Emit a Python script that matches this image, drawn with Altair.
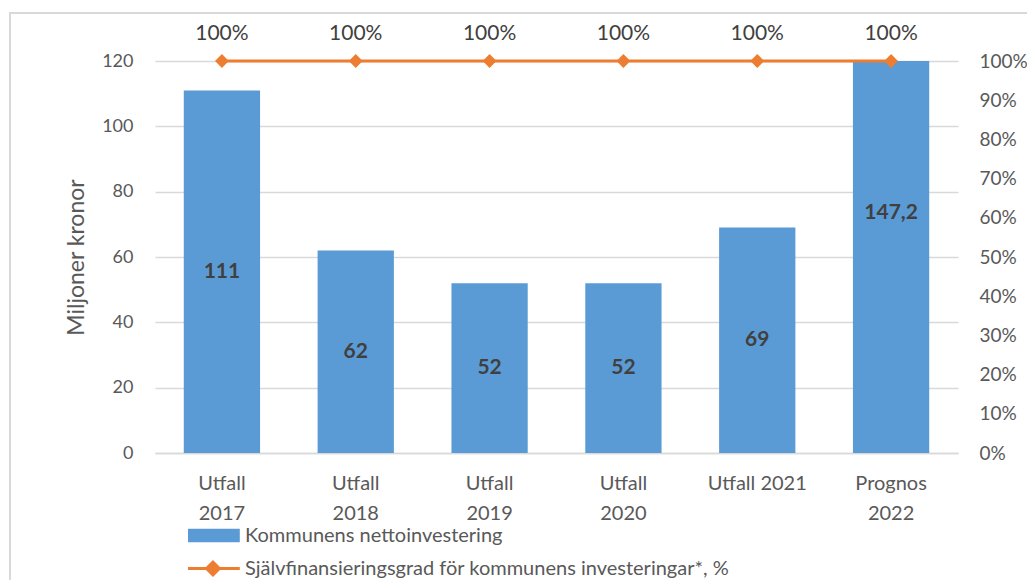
import altair as alt
import pandas as pd

categories = ["Utfall 2017", "Utfall 2018", "Utfall 2019", "Utfall 2020", "Utfall 2021", "Prognos 2022"]
investering = [111, 62, 52, 52, 69, 147.2]
sjalvfin = [1.0, 1.0, 1.0, 1.0, 1.0, 1.0]

bar_name = "Kommunens nettoinvestering"
line_name = "Självfinansieringsgrad för kommunens investeringar*, %"
series_names = [bar_name, line_name]
pct_ticks = [0, 0.1, 0.2, 0.3, 0.4, 0.5, 0.6, 0.7, 0.8, 0.9, 1.0]

BLUE = "#5B9BD5"
ORANGE = "#ED7D31"
FONT = "Lato"

df = pd.DataFrame({"cat": categories, "value": investering, "pct": sjalvfin})
legend_df = pd.DataFrame({"series": series_names})

x_enc = alt.X(
    "cat:N",
    sort=categories,
    scale=alt.Scale(paddingInner=0.43, paddingOuter=0.215),
    axis=alt.Axis(
        title=None, labelAngle=0, ticks=False, domainColor="#d9d9d9", domainWidth=1.5,
        labelColor="#595959", labelFontSize=20, labelFont=FONT, labelPadding=20,
        labelLineHeight=30, labelBaseline="top",
        labelExpr="datum.value == 'Utfall 2021' ? datum.value : split(datum.value, ' ')",
    ),
)

left_axis = alt.Axis(
    title="Miljoner kronor", titleFontSize=23, titleFont=FONT, titleColor="#595959",
    titleFontWeight="normal", titlePadding=13,
    values=[0, 20, 40, 60, 80, 100, 120], domain=False, ticks=False,
    labelColor="#595959", labelFontSize=18, labelFont=FONT, labelPadding=22,
    gridColor="#d9d9d9", gridWidth=1.5,
)
left_scale = alt.Scale(domain=[0, 120], nice=False)

base = alt.Chart(df)

frame = alt.Chart(pd.DataFrame({"a": [0]})).mark_rect(
    filled=False, stroke="#d9d9d9", strokeWidth=2, clip=False
).encode(x=alt.value(-145), x2=alt.value(900), y=alt.value(-48), y2=alt.value(700))

bars = base.mark_bar(color=BLUE, clip=True).encode(
    x=x_enc,
    y=alt.Y("value:Q", scale=left_scale, axis=left_axis),
)

bar_labels = base.transform_calculate(
    half="datum.value / 2",
    lab="replace(toString(datum.value), '.', ',')",
).mark_text(fontSize=21, fontWeight="bold", font=FONT, color="#404040").encode(
    x=alt.X("cat:N", sort=categories),
    y=alt.Y("half:Q", scale=left_scale, axis=left_axis),
    text="lab:N",
)

left = alt.layer(frame, bars, bar_labels)

pct_axis = alt.Axis(
    title=None, orient="right", format=".0%",
    values=pct_ticks, tickCount=11,
    domain=False, ticks=False, grid=False, labelOverlap=False,
    labelColor="#595959", labelFontSize=19, labelFont=FONT, labelPadding=21,
)
pct_scale = alt.Scale(domain=[0, 1], nice=False)

line = base.mark_line(strokeWidth=3, color=ORANGE).encode(
    x=alt.X("cat:N", sort=categories),
    y=alt.Y("pct:Q", scale=pct_scale, axis=pct_axis),
)
points = base.mark_point(shape="diamond", filled=True, size=190, opacity=1, color=ORANGE).encode(
    x=alt.X("cat:N", sort=categories),
    y=alt.Y("pct:Q", scale=pct_scale, axis=pct_axis),
)
pct_labels = base.mark_text(fontSize=21, font=FONT, color="#404040", dy=-27).encode(
    x=alt.X("cat:N", sort=categories),
    y=alt.Y("pct:Q", scale=pct_scale, axis=pct_axis),
    text=alt.Text("pct:Q", format=".0%"),
)

right = alt.layer(line, points, pct_labels)

legend = alt.Legend(
    title=None, orient="none", legendX=33, legendY=456, direction="vertical",
    symbolSize=1369, symbolOpacity=1, symbolStrokeWidth=0,
    labelFontSize=20, labelFont=FONT, labelColor="#595959",
    labelOffset=20, rowPadding=4, padding=0, labelLimit=800,
)
legend_layer = alt.Chart(legend_df).mark_point(filled=True, opacity=0).encode(
    x=alt.value(0), y=alt.value(0),
    color=alt.Color("series:N", scale=alt.Scale(domain=series_names, range=[BLUE, ORANGE]), legend=legend),
    shape=alt.Shape(
        "series:N",
        scale=alt.Scale(
            domain=series_names,
            range=[
                "M-1,-0.36H1.8V0.36H-1Z",
                "M-1,-0.08H1.8V0.08H-1Z M0.35,-0.46L0.81,0L0.35,0.46L-0.11,0Z",
            ],
        ),
        legend=legend,
    ),
)

chart = alt.layer(left, right, legend_layer).resolve_scale(y="independent").properties(
    width=803, height=392,
    autosize=alt.AutoSizeParams(type="none"),
    padding={"left": 147, "top": 53, "right": 69, "bottom": 127},
    background="white",
).configure_view(stroke=None)

chart.save("out.html", embed_options={"renderer": "svg", "actions": False})
